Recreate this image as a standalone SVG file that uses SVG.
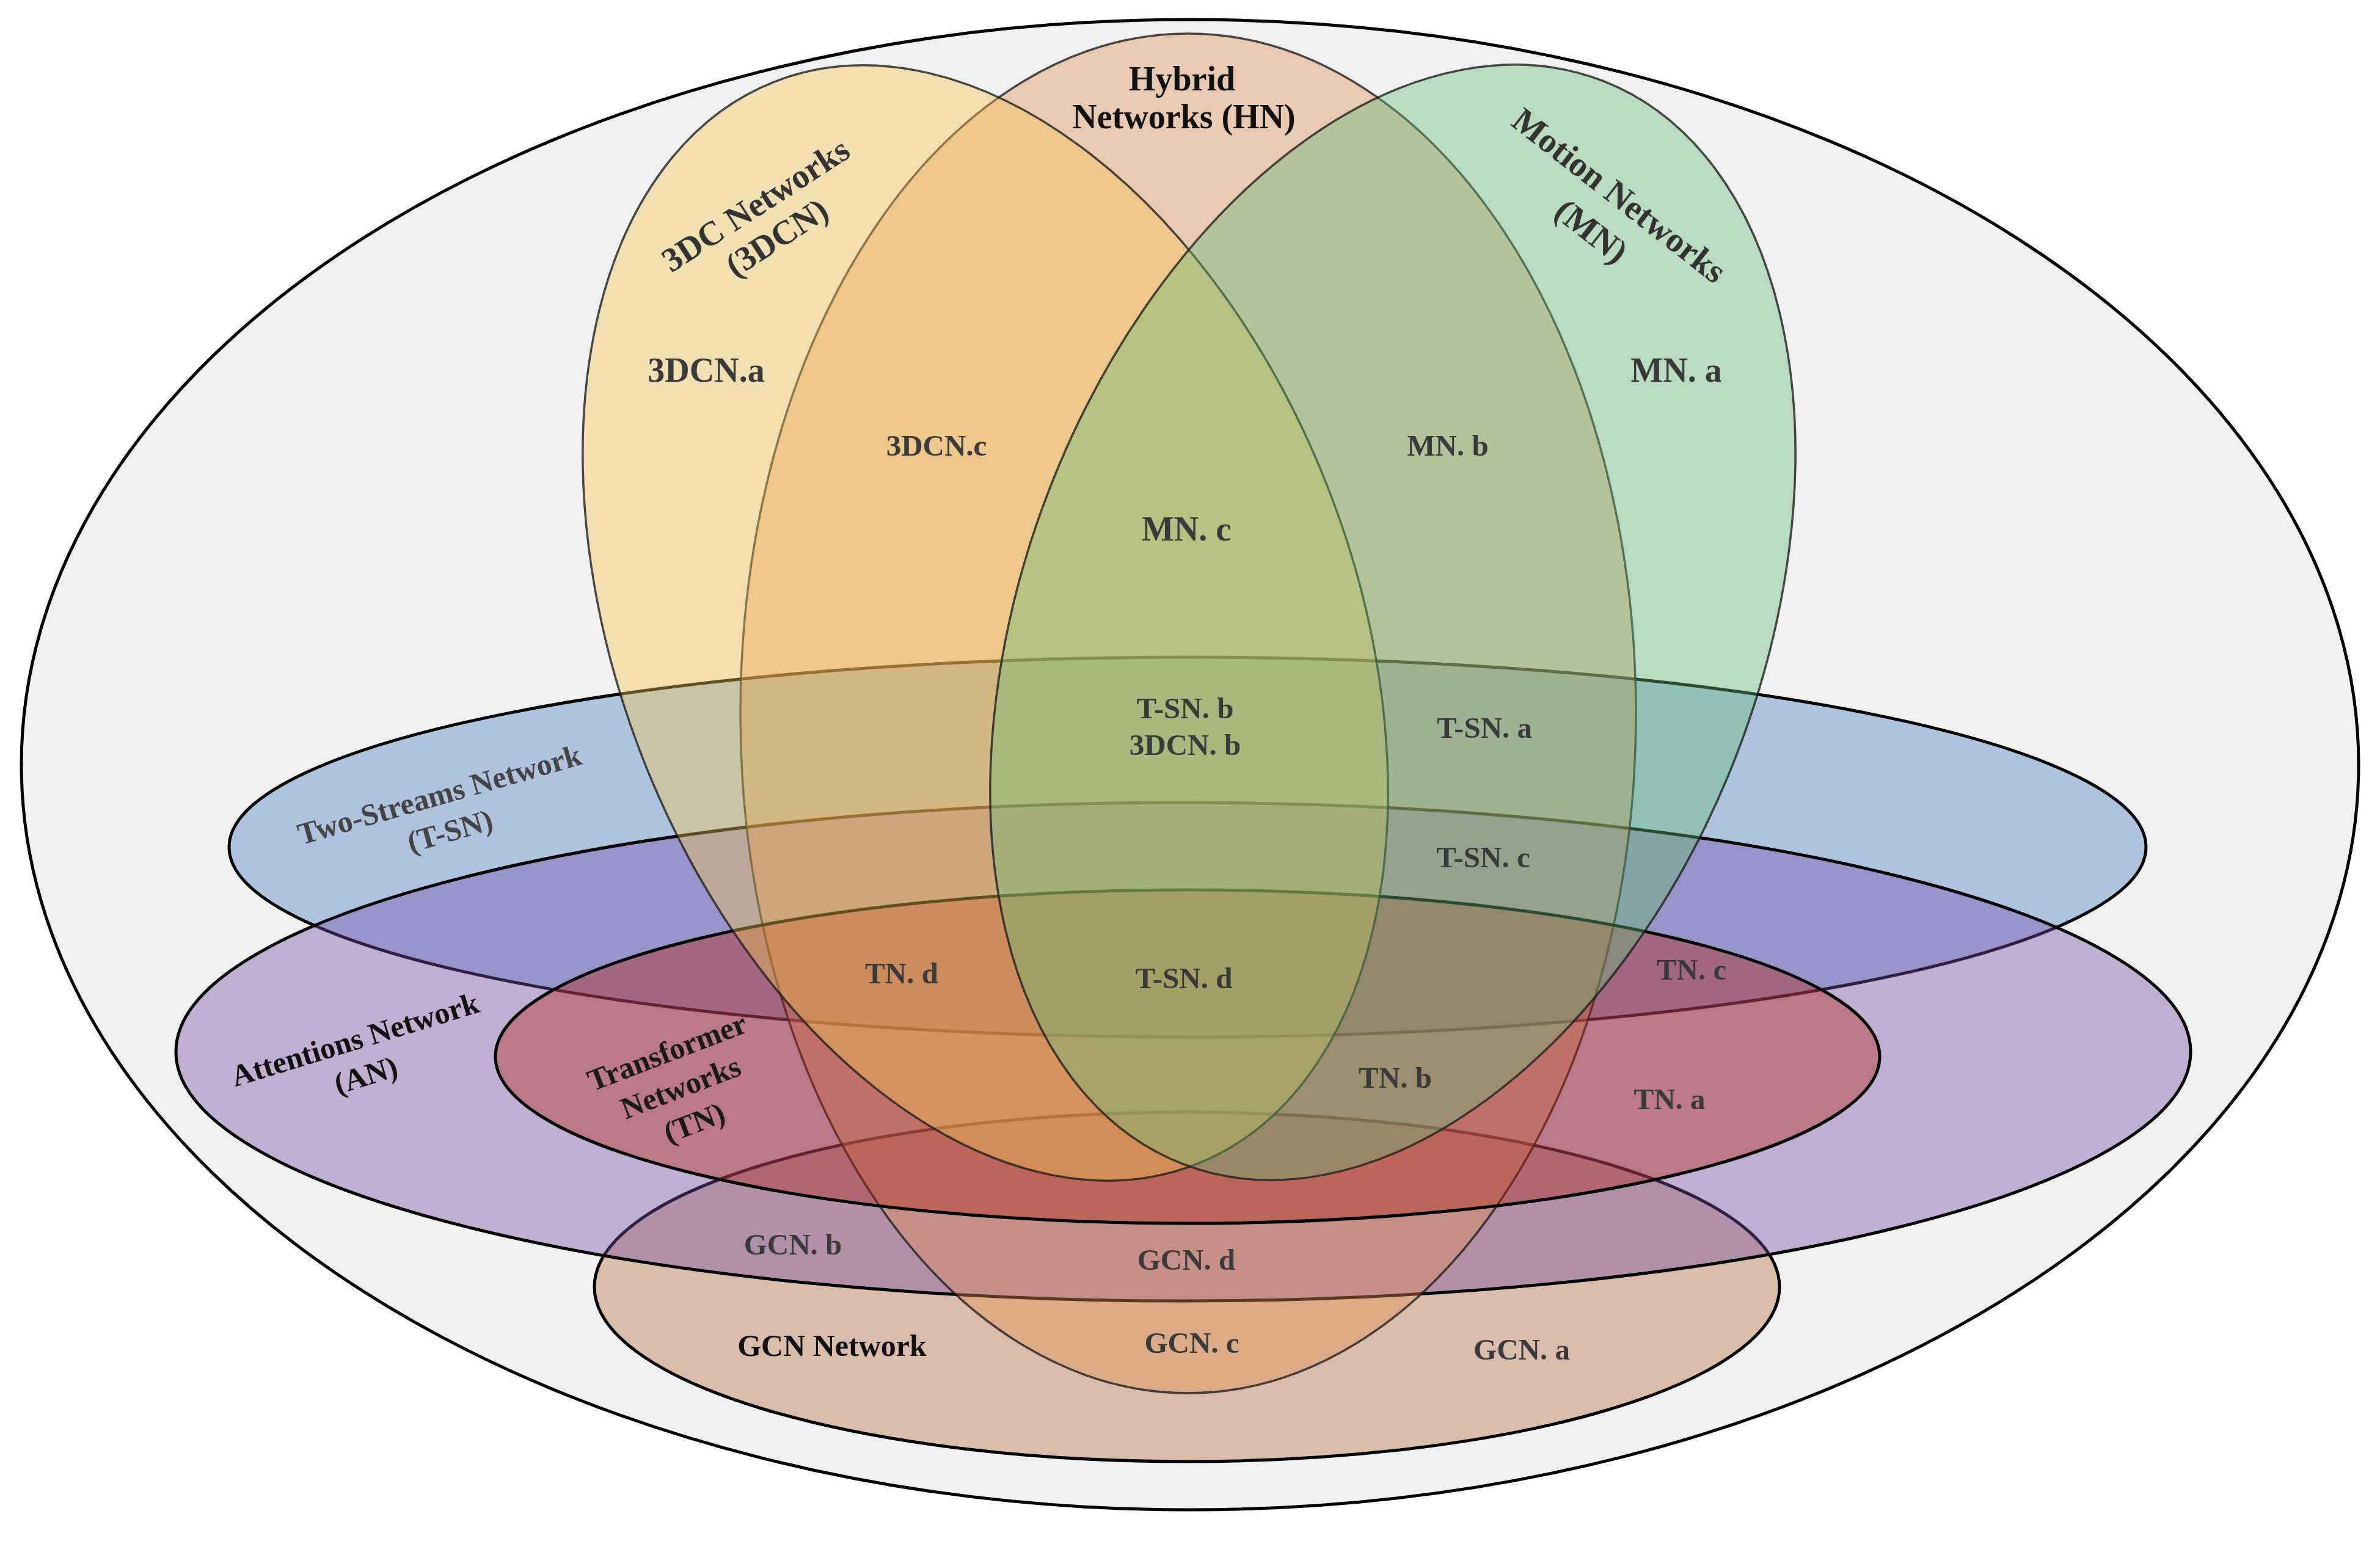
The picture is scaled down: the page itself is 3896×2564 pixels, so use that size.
<svg xmlns="http://www.w3.org/2000/svg" width="3896" height="2564" viewBox="0 0 3896 2564">
<style>
  .set { fill-opacity: 0.4; }
  .h { stroke: #000; stroke-width: 5; }
  .v { stroke: #1e1e1e; stroke-opacity: 0.8; stroke-width: 3.5; }
  text { font-family: "Liberation Serif", "Times New Roman", serif; font-weight: bold; text-anchor: middle; }
  .lbl { fill: #3a3a3a; font-size: 49px; }
  .lg { font-size: 56px; }
  .ttl { fill: #111; }
  .gry { fill: #333; }
</style>
<rect width="3896" height="2564" fill="#ffffff"/>
<g id="outer">
  <ellipse cx="1948" cy="1252" rx="1913" ry="1220" fill="#f0f0f0" stroke="#000" stroke-width="5"/>
</g>
<g id="gcn">
  <ellipse class="set h" cx="1943" cy="2107" rx="970" ry="286" fill="#b66e3e" stroke-width="4"/>
</g>
<g id="tsn">
  <ellipse class="set h" cx="1944" cy="1387" rx="1569" ry="311" fill="#487fc3"/>
</g>
<g id="an">
  <ellipse class="set h" cx="1937" cy="1722" rx="1649" ry="408" fill="#784ba7"/>
</g>
<g id="hn">
  <ellipse class="set v" cx="1945" cy="1168" rx="733" ry="1113" fill="#de8e52"/>
</g>
<g id="tn">
  <ellipse class="set h" cx="1944" cy="1730" rx="1133" ry="273" fill="#b2281a"/>
</g>
<g id="cn3d">
  <ellipse class="set v" cx="1613" cy="1020" rx="603" ry="951" fill="#f2c552" transform="rotate(-21.2 1613 1020)"/>
</g>
<g id="mn">
  <ellipse class="set v" cx="2280" cy="1019" rx="603" ry="951" fill="#66bb75" transform="rotate(21.2 2280 1019)"/>
</g>

<g id="titles">
  <text class="ttl" font-size="56" x="1935" y="148">Hybrid</text>
  <text class="ttl" font-size="56" x="1938" y="210">Networks (HN)</text>
  <text class="gry" font-size="56" transform="translate(1247 351) rotate(-33)"><tspan x="0" y="0">3DC Networks</tspan><tspan x="0" y="64">(3DCN)</tspan></text>
  <text class="gry" font-size="57" transform="translate(2639 335) rotate(38)"><tspan x="0" y="0">Motion Networks</tspan><tspan x="0" y="74">(MN)</tspan></text>
  <text fill="#444" font-size="50" transform="translate(724 1317) rotate(-16)"><tspan x="0" y="0">Two-Streams Network</tspan><tspan x="0" y="62">(T-SN)</tspan></text>
  <text class="ttl" font-size="50" transform="translate(586 1718) rotate(-17)"><tspan x="0" y="0">Attentions Network</tspan><tspan x="0" y="61">(AN)</tspan></text>
  <text fill="#1a1a1a" font-size="50" transform="translate(1098 1738) rotate(-21)"><tspan x="0" y="0">Transformer</tspan><tspan x="0" y="62">Networks</tspan><tspan x="0" y="124">(TN)</tspan></text>
  <text class="ttl" font-size="50" x="1362" y="2220">GCN Network</text>
</g>

<g id="labels">
  <text class="lbl lg" x="1156" y="625">3DCN.a</text>
  <text class="lbl lg" x="2744" y="625">MN. a</text>
  <text class="lbl lg" x="1942" y="885">MN. c</text>
  <text class="lbl" x="1533" y="746">3DCN.c</text>
  <text class="lbl" x="2370" y="746">MN. b</text>
  <text class="lbl" x="1940" y="1176">T-SN. b</text>
  <text class="lbl" x="1940" y="1236">3DCN. b</text>
  <text class="lbl" x="2430" y="1208">T-SN. a</text>
  <text class="lbl" x="2428" y="1420">T-SN. c</text>
  <text class="lbl" x="1938" y="1618">T-SN. d</text>
  <text class="lbl" x="1476" y="1610">TN. d</text>
  <text class="lbl" x="2769" y="1604">TN. c</text>
  <text class="lbl" x="2284" y="1781">TN. b</text>
  <text class="lbl" x="2733" y="1816">TN. a</text>
  <text class="lbl" x="1298" y="2054">GCN. b</text>
  <text class="lbl" x="1942" y="2079">GCN. d</text>
  <text class="lbl" x="1951" y="2215">GCN. c</text>
  <text class="lbl" x="2491" y="2226">GCN. a</text>
</g>
</svg>
